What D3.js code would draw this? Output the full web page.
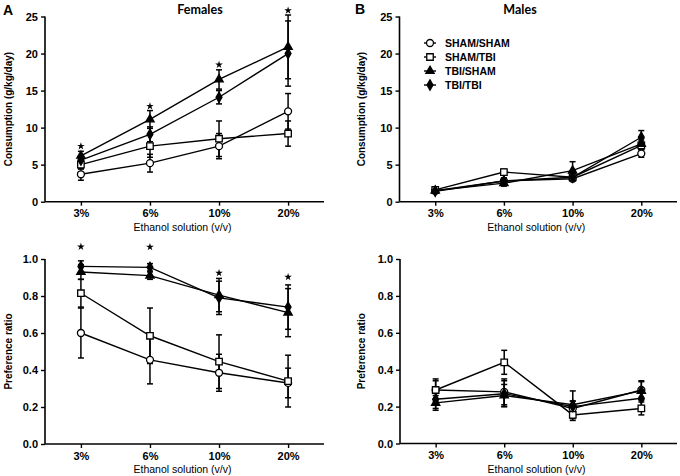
<!DOCTYPE html>
<html><head><meta charset="utf-8">
<script src="https://cdn.jsdelivr.net/npm/d3@7"></script>
<style>body{margin:0;background:#fff}</style></head>
<body><svg id="c" width="680" height="476"></svg>
<script>
const categories = ["3%", "6%", "10%", "20%"];
const groups = ["SHAM/SHAM", "SHAM/TBI", "TBI/SHAM", "TBI/TBI"];
const consTicks = [0, 5, 10, 15, 20, 25];
const prefTicks = [0, 0.2, 0.4, 0.6, 0.8, 1.0];

// Females consumption (g/kg/day): mean and SEM per group (order of groups)
const femConsMean = [[3.7, 5.2, 7.5, 12.2], [5.0, 7.5, 8.5, 9.2], [6.2, 11.1, 16.5, 20.9], [5.6, 9.1, 14.1, 20.0]];
const femConsErr  = [[0.8, 1.2, 1.7, 2.4], [0.6, 1.5, 2.4, 1.7], [0.6, 1.2, 1.3, 4.3], [0.5, 1.0, 0.9, 4.4]];
const femConsStars = [7.5, 12.9, 18.5, 25.8];

// Males consumption
const maleConsMean = [[1.5, 2.8, 3.1, 6.5], [1.6, 4.0, 3.3, 7.6], [1.5, 2.5, 4.2, 7.8], [1.4, 2.8, 3.3, 8.7]];
const maleConsErr  = [[0.3, 0.4, 0.3, 0.5], [0.3, 0.4, 0.4, 0.6], [0.3, 0.4, 1.2, 0.7], [0.3, 0.4, 0.4, 0.9]];

// Females preference ratio
const femPrefMean = [[0.60, 0.455, 0.385, 0.33], [0.815, 0.585, 0.445, 0.34], [0.93, 0.91, 0.805, 0.71], [0.96, 0.955, 0.79, 0.74]];
const femPrefErr  = [[0.135, 0.13, 0.10, 0.08], [0.075, 0.15, 0.145, 0.14], [0.04, 0.02, 0.09, 0.13], [0.03, 0.02, 0.09, 0.12]];
const femPrefStars = [1.066, 1.065, 0.924, 0.903];

// Males preference ratio
const malePrefMean = [[0.29, 0.28, 0.19, 0.29], [0.29, 0.44, 0.155, 0.19], [0.22, 0.26, 0.21, 0.285], [0.24, 0.27, 0.20, 0.245]];
const malePrefErr  = [[0.06, 0.07, 0.04, 0.05], [0.05, 0.065, 0.03, 0.035], [0.04, 0.06, 0.075, 0.05], [0.05, 0.07, 0.03, 0.04]];

const svg = d3.select("#c");
const symbols = [d3.symbolCircle, d3.symbolSquare, d3.symbolTriangle, d3.symbolDiamond];
const symSizes = [38, 42, 30, 30];
const fills = ["#fff", "#fff", "#000", "#000"];
const FONT = "'Liberation Sans', Arial, sans-serif";

function panel(o) {
  const g = svg.append("g");
  const x = d3.scalePoint().domain(categories).range([o.x0, o.x1]).padding(0.52);
  const y = d3.scaleLinear().domain(o.domain).range([o.y0, o.y1]);

  const ya = g.append("g").attr("transform", `translate(${o.x0},0)`)
    .call(d3.axisLeft(y).tickValues(o.ticks).tickSize(4).tickPadding(3).tickFormat(o.fmt));
  const xa = g.append("g").attr("transform", `translate(0,${o.y0})`)
    .call(d3.axisBottom(x).tickSize(4).tickPadding(4).tickSizeOuter(0));
  [ya, xa].forEach(a => {
    a.select(".domain").attr("stroke", "#000").attr("stroke-width", 1.6);
    a.selectAll(".tick line").attr("stroke", "#000").attr("stroke-width", 1.4);
    a.selectAll("text").attr("fill", "#000").style("font-family", FONT)
      .style("font-size", "11px").style("font-weight", "bold");
  });
  xa.select(".domain").attr("d", `M${o.x0},0H${o.x1}`);
  ya.select(".domain").attr("d", `M0,${o.y0}V${o.y1}`);

  // axis titles
  g.append("text").attr("x", (o.x0 + o.x1) / 2 - 2).attr("y", o.y0 + 29)
    .attr("text-anchor", "middle").style("font-family", FONT).style("font-size", "10.5px")
    .text("Ethanol solution (v/v)");
  g.append("text").attr("transform", `translate(${o.ylabX},${(o.y0 + o.y1) / 2}) rotate(-90)`)
    .attr("text-anchor", "middle").attr("dy", "0.35em").style("font-family", FONT)
    .style("font-size", "10px").style("font-weight", "bold").text(o.ylab);

  // error bars
  o.mean.forEach((ser, si) => {
    ser.forEach((v, ci) => {
      const e = o.err[si][ci], cx = x(categories[ci]);
      const lo = y(v - e), hi = y(v + e);
      g.append("line").attr("x1", cx).attr("x2", cx).attr("y1", lo).attr("y2", hi)
        .attr("stroke", "#000").attr("stroke-width", 1.5);
      [lo, hi].forEach(yy => g.append("line").attr("x1", cx - 3).attr("x2", cx + 3)
        .attr("y1", yy).attr("y2", yy).attr("stroke", "#000").attr("stroke-width", 1.5));
    });
  });
  // lines
  const line = d3.line().x((d, i) => x(categories[i])).y(d => y(d));
  o.mean.forEach(ser => g.append("path").attr("d", line(ser)).attr("fill", "none")
    .attr("stroke", "#000").attr("stroke-width", 1.4));
  // markers
  o.mean.forEach((ser, si) => {
    ser.forEach((v, ci) => {
      g.append("path").attr("d", d3.symbol().type(symbols[si]).size(symSizes[si])())
        .attr("transform", `translate(${x(categories[ci])},${y(v)})`)
        .attr("fill", fills[si]).attr("stroke", "#000").attr("stroke-width", 1.3);
    });
  });
  // significance stars
  if (o.stars) o.stars.forEach((v, ci) => {
    g.append("path").attr("d", d3.symbol().type(d3.symbolStar).size(18)())
      .attr("transform", `translate(${x(categories[ci])},${y(v)})`).attr("fill", "#000");
  });
  return {x, y};
}

panel({x0: 45, x1: 324, y0: 201.7, y1: 16.5, domain: [0, 25], ticks: consTicks, fmt: d3.format("d"),
  mean: femConsMean, err: femConsErr, stars: femConsStars, ylab: "Consumption (g/kg/day)", ylabX: 8});
panel({x0: 399.5, x1: 677, y0: 201.7, y1: 16.5, domain: [0, 25], ticks: consTicks, fmt: d3.format("d"),
  mean: maleConsMean, err: maleConsErr, ylab: "Consumption (g/kg/day)", ylabX: 361});
panel({x0: 45, x1: 324, y0: 444, y1: 259, domain: [0, 1], ticks: prefTicks, fmt: d3.format(".1f"),
  mean: femPrefMean, err: femPrefErr, stars: femPrefStars, ylab: "Preference ratio", ylabX: 8});
panel({x0: 400, x1: 677, y0: 443.5, y1: 259, domain: [0, 1], ticks: prefTicks, fmt: d3.format(".1f"),
  mean: malePrefMean, err: malePrefErr, ylab: "Preference ratio", ylabX: 361});

// panel letters and titles
svg.append("text").attr("x", 3).attr("y", 15).style("font-family", FONT).style("font-size", "14px")
  .style("font-weight", "bold").text("A");
svg.append("text").attr("x", 355).attr("y", 14).style("font-family", FONT).style("font-size", "14px")
  .style("font-weight", "bold").text("B");
svg.append("text").attr("x", 200).attr("y", 14).attr("text-anchor", "middle").style("font-family", "Lato, 'Open Sans', sans-serif")
  .style("font-size", "12.5px").style("font-weight", "bold").text("Females");
svg.append("text").attr("x", 520).attr("y", 14).attr("text-anchor", "middle").style("font-family", "Lato, 'Open Sans', sans-serif")
  .style("font-size", "12.5px").style("font-weight", "bold").text("Males");

// legend
const leg = svg.append("g");
groups.forEach((name, i) => {
  const yy = 43 + i * 14;
  leg.append("line").attr("x1", 424).attr("x2", 436).attr("y1", yy).attr("y2", yy)
    .attr("stroke", "#000").attr("stroke-width", 1.4);
  leg.append("path").attr("d", d3.symbol().type(symbols[i]).size(symSizes[i])())
    .attr("transform", `translate(430,${yy})`).attr("fill", fills[i]).attr("stroke", "#000").attr("stroke-width", 1.3);
  leg.append("text").attr("x", 445).attr("y", yy).attr("dy", "0.35em").style("font-family", FONT)
    .style("font-size", "10.5px").style("font-weight", "bold").text(name);
});
</script></body></html>
